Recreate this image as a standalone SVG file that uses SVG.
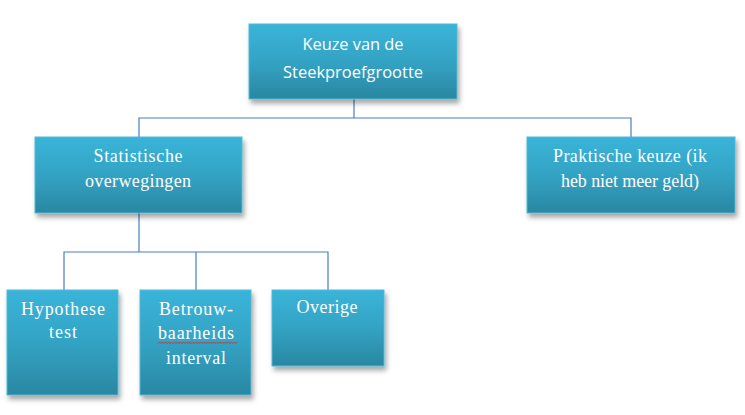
<svg xmlns="http://www.w3.org/2000/svg" width="745" height="415" viewBox="0 0 745 415">
<defs>
<linearGradient id="g" x1="0" y1="0" x2="0" y2="1">
<stop offset="0" stop-color="#3ab4d9"/>
<stop offset="0.5" stop-color="#33a3c4"/>
<stop offset="1" stop-color="#2a87a1"/>
</linearGradient>
<filter id="sh" x="-10%" y="-10%" width="130%" height="140%">
<feDropShadow dx="2" dy="4" stdDeviation="2.5" flood-color="#000" flood-opacity="0.35"/>
</filter>
</defs>
<style>
.box{fill:url(#g);stroke:#4fb9d8;stroke-width:1;filter:url(#sh)}
.t{fill:#fff;text-anchor:middle}
.sans{font-family:"Open Sans","Liberation Sans",sans-serif;font-size:17px}
.serif{font-family:"Liberation Serif",serif;font-size:18px}
.c{fill:none;stroke:#4a7ebb;stroke-width:1.2}
</style>
<rect width="745" height="415" fill="#fff"/>
<g id="connectors">
<path class="c" d="M354 99V118M139 137V118H631V137"/>
<path class="c" d="M139 213V252M64 290V252H328V290M196 252V290"/>
</g>
<g id="n-keuze">
<rect class="box" x="249" y="24" width="208" height="75"/>
<text class="t sans" x="353" y="50" textLength="101" lengthAdjust="spacingAndGlyphs">Keuze van de</text>
<text class="t sans" x="353" y="78" textLength="140" lengthAdjust="spacingAndGlyphs">Steekproefgrootte</text>
</g>
<g id="n-statistische">
<rect class="box" x="35" y="137" width="207" height="76"/>
<text class="t serif" x="138" y="162" textLength="89" lengthAdjust="spacing">Statistische</text>
<text class="t serif" x="138" y="187" textLength="106" lengthAdjust="spacing">overwegingen</text>
</g>
<g id="n-praktische">
<rect class="box" x="527" y="137" width="208" height="76"/>
<text class="t serif" x="630" y="162" textLength="154" lengthAdjust="spacing">Praktische keuze (ik</text>
<text class="t serif" x="630" y="187" textLength="138" lengthAdjust="spacing">heb niet meer geld)</text>
</g>
<g id="n-hypothese">
<rect class="box" x="7" y="290" width="111" height="105"/>
<text class="t serif" x="63" y="315" textLength="84" lengthAdjust="spacing">Hypothese</text>
<text class="t serif" x="63" y="338" textLength="28" lengthAdjust="spacing">test</text>
</g>
<g id="n-betrouw">
<rect class="box" x="140" y="290" width="111" height="105"/>
<text class="t serif" x="196" y="315" textLength="74" lengthAdjust="spacing">Betrouw-</text>
<text class="t serif" x="196" y="339" textLength="76" lengthAdjust="spacing">baarheids</text>
<path d="M158 343.5l1.5-1.5 1.5 1.5 1.5-1.5 1.5 1.5 1.5-1.5 1.5 1.5 1.5-1.5 1.5 1.5 1.5-1.5 1.5 1.5 1.5-1.5 1.5 1.5 1.5-1.5 1.5 1.5 1.5-1.5 1.5 1.5 1.5-1.5 1.5 1.5 1.5-1.5 1.5 1.5 1.5-1.5 1.5 1.5 1.5-1.5 1.5 1.5 1.5-1.5 1.5 1.5 1.5-1.5 1.5 1.5 1.5-1.5 1.5 1.5 1.5-1.5 1.5 1.5 1.5-1.5 1.5 1.5 1.5-1.5 1.5 1.5 1.5-1.5 1.5 1.5 1.5-1.5 1.5 1.5 1.5-1.5 1.5 1.5 1.5-1.5 1.5 1.5 1.5-1.5 1.5 1.5 1.5-1.5 1.5 1.5 1.5-1.5 1.5 1.5 1.5-1.5 1.5 1.5 1.5-1.5" fill="none" stroke="#e02020" stroke-width="0.8"/>
<text class="t serif" x="196" y="364" textLength="60" lengthAdjust="spacing">interval</text>
</g>
<g id="n-overige">
<rect class="box" x="272" y="290" width="112" height="76"/>
<text class="t serif" x="327" y="313" textLength="61" lengthAdjust="spacing">Overige</text>
</g>
</svg>
